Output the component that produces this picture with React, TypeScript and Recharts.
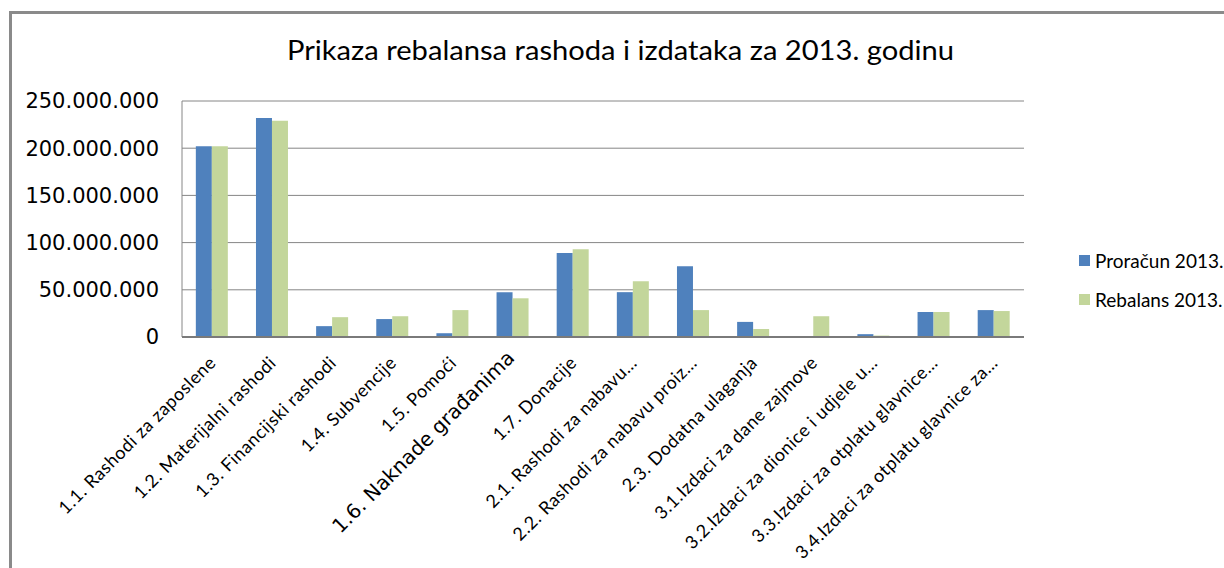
import { BarChart, Bar, XAxis, YAxis, CartesianGrid } from "recharts";

const categories = [
  "1.1. Rashodi za zaposlene",
  "1.2. Materijalni rashodi",
  "1.3. Financijski rashodi",
  "1.4. Subvencije",
  "1.5. Pomoći",
  "1.6. Naknade građanima",
  "1.7. Donacije",
  "2.1. Rashodi za nabavu…",
  "2.2. Rashodi za nabavu proiz…",
  "2.3. Dodatna ulaganja",
  "3.1.Izdaci za dane zajmove",
  "3.2.Izdaci za dionice i udjele u…",
  "3.3.Izdaci za otplatu glavnice…",
  "3.4.Izdaci za otplatu glavnice za…",
];

const proracun = [
  202000000, 232000000, 11500000, 19000000, 4000000, 47500000, 89000000,
  47500000, 75000000, 16000000, 0, 3000000, 26500000, 28500000,
];

const rebalans = [
  202000000, 229000000, 21000000, 22000000, 28500000, 41000000, 93000000,
  59000000, 28500000, 8500000, 22000000, 1500000, 26500000, 27500000,
];

const yTicks = [0, 50000000, 100000000, 150000000, 200000000, 250000000];

const seriesNames = ["Proračun 2013.", "Rebalans 2013."];
const seriesColors = ["#4F81BD", "#C3D69B"];

const title = "Prikaza rebalansa rashoda i izdataka za 2013. godinu";

const data = categories.map((name, i) => ({
  name,
  proracun: proracun[i],
  rebalans: rebalans[i],
}));

const fmt = (v: number) => String(v).replace(/\B(?=(\d{3})+(?!\d))/g, ".");

// the 1.6 label is set in a different, larger font in the original
function XTick({ x, y, payload }: any) {
  const odd = payload.value.startsWith("1.6.");
  return (
    <g transform={`translate(${x + (odd ? 3 : 5)},${y + (odd ? 22 : 27)})`}>
      <text
        textAnchor="end"
        transform="rotate(-45)"
        fontFamily={odd ? "DejaVu Sans" : "Lato"}
        fontSize={odd ? 20 : 18}
        letterSpacing={odd ? 0 : 0.5}
        fill="#000"
      >
        {payload.value}
      </text>
    </g>
  );
}

export default function App() {
  return (
    <div
      style={{
        position: "fixed",
        left: 0,
        top: 0,
        width: 1224,
        height: 568,
        background: "#fff",
        overflow: "hidden",
      }}
    >
      <div
        style={{
          position: "absolute",
          left: 9,
          top: 11,
          width: 1300,
          height: 700,
          borderLeft: "3px solid #8a8a8a",
          borderTop: "3px solid #8a8a8a",
        }}
      />
      <svg
        width={1224}
        height={80}
        style={{ position: "absolute", left: 0, top: 0 }}
      >
        <text
          x={287}
          y={60}
          textLength={667}
          lengthAdjust="spacingAndGlyphs"
          fontFamily="Lato"
          fontSize={26}
          fill="#000"
        >
          {title}
        </text>
      </svg>
      <div style={{ position: "absolute", left: 0, top: 0 }}>
        <BarChart
          width={1224}
          height={568}
          data={data}
          margin={{ top: 101, right: 200, bottom: 0, left: 0 }}
          barCategoryGap="23%"
          barGap={0}
        >
          <CartesianGrid vertical={false} stroke="#868686" strokeWidth={1} />
          <YAxis
            domain={[0, 250000000]}
            ticks={yTicks}
            width={182}
            tickFormatter={fmt}
            tickLine={false}
            tickSize={0}
            tickMargin={23}
            axisLine={{ stroke: "#868686" }}
            tick={{ fontFamily: "DejaVu Sans", fontSize: 21, fill: "#000" }}
          />
          <XAxis
            dataKey="name"
            height={231}
            interval={0}
            tickLine={false}
            tickSize={0}
            tickMargin={0}
            axisLine={{ stroke: "#7a7a7a", strokeWidth: 2 }}
            tick={<XTick />}
          />
          <Bar
            dataKey="proracun"
            name={seriesNames[0]}
            fill={seriesColors[0]}
            isAnimationActive={false}
          />
          <Bar
            dataKey="rebalans"
            name={seriesNames[1]}
            fill={seriesColors[1]}
            isAnimationActive={false}
          />
        </BarChart>
      </div>
      {seriesNames.map((n, i) => (
        <div
          key={n}
          style={{
            position: "absolute",
            left: 1079,
            top: 249 + i * 39,
            height: 22,
            display: "flex",
            alignItems: "center",
            whiteSpace: "nowrap",
            fontFamily: "Lato",
            fontSize: 19,
            color: "#000",
          }}
        >
          <span
            style={{
              display: "inline-block",
              width: 11,
              height: 11,
              background: seriesColors[i],
              marginRight: 5,
            }}
          />
          {n}
        </div>
      ))}
    </div>
  );
}
